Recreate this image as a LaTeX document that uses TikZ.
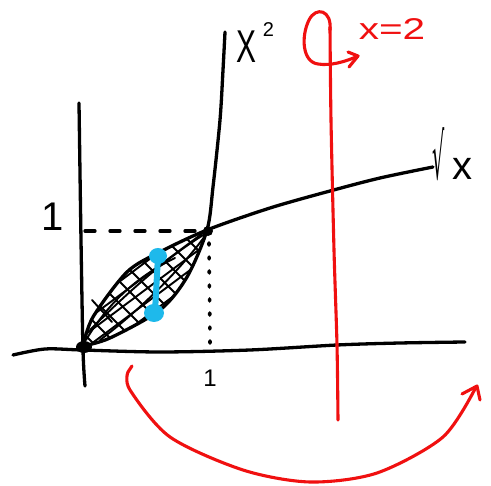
\documentclass[tikz,border=0pt]{standalone}
\usepackage{fontspec}
\setmainfont{Liberation Sans}
\newfontfamily\symfont{DejaVu Sans}
\usepackage{graphicx}
\definecolor{pen}{RGB}{240,16,16}
\definecolor{hl}{RGB}{30,185,235}
\begin{document}
\begin{tikzpicture}[x=1pt,y=-1pt, line cap=round, line join=round,
  inkline/.style={draw=black, line width=3.3pt},
  redline/.style={draw=pen, line width=3.1pt},
  hatch/.style={draw=black, line width=1.9pt},
  lbl/.style={inner sep=0pt, outer sep=0pt}]
\useasboundingbox (0,0) rectangle (491,486);
\fill[white] (0,0) rectangle (491,486);

% hatched region between the curves
\begin{scope}
\clip plot[smooth] coordinates {(83,346) (93,317) (127,272) (160,252) (207,230)}
  -- plot[smooth] coordinates {(207,230) (187,277) (160,310) (110,338) (83,346)} -- cycle;
\foreach \k in {-9,...,9}
  \draw[hatch] ({145+\k*6.6-130},{290+\k*8.8+97}) -- ({145+\k*6.6+130},{290+\k*8.8-97});
\foreach \k in {-7,...,7}
  \draw[hatch] ({145+\k*11-110},{290-\k*11-115}) -- ({145+\k*11+110},{290-\k*11+105});
\end{scope}
\draw[hatch] (92,300) -- (112,322);
\draw[hatch] (90,330) .. controls (130,290) and (170,255) .. (205,234);
\draw[hatch] (100,340) .. controls (140,310) and (180,270) .. (205,236);
\draw[hatch] (86,340) .. controls (110,300) and (140,275) .. (175,258);

% axes
\draw[inkline] plot[smooth] coordinates {(13,355) (45,349) (82,350) (160,352) (250,350) (337,345) (400,343) (465,342)};
\draw[inkline] plot[smooth] coordinates {(79,103) (81,240) (83,350) (85,386)};

% curves
\draw[inkline] plot[smooth] coordinates {(83,346) (110,338) (160,310) (187,277) (207,230) (213,187) (220,120) (223,70) (225,32)};
\draw[inkline] plot[smooth] coordinates {(83,346) (93,317) (127,272) (160,252) (207,230) (270,208) (330,191) (380,178) (433,167)};

% guides
\draw[inkline, dash pattern=on 10pt off 15pt] (85,231) -- (205,231);
\draw[inkline, line width=3.6pt, dash pattern=on 2pt off 12pt] (209,243) -- (210,343);

% blobs
\fill (84,347) ellipse (8 and 6);
\fill (208,231) circle (5);

% blue slice
\draw[hl, line width=6pt] (158,256) -- (155,312);
\fill[hl] (158,256) ellipse (9 and 8);
\fill[hl] (154,313) ellipse (10 and 9);

% red axis of rotation
\draw[redline] plot[smooth] coordinates {(330,27) (331,120) (334,250) (337,345) (338,420)};
\draw[redline] (330,30) .. controls (332,10) and (316,6) .. (309,20) .. controls (301,36) and (302,62) .. (318,64) .. controls (330,66) and (345,62) .. (358,56);
\draw[redline] (348,52) -- (358,56) -- (349,67);

% red bottom arrow
\draw[redline] (132,366) -- (128,372);
\draw[redline] plot[smooth] coordinates {(128,372) (130,390) (170,437) (243,470) (310,482) (377,473) (443,437) (476,387)};
\draw[redline] (462,394) -- (477,386) -- (480,400);

% labels
\node[lbl, font=\fontsize{40}{40}\selectfont] (oney) at (53,217) {1};
\node[lbl, font=\fontsize{24}{24}\selectfont] (onex) at (210,378) {1};
\node[lbl, anchor=base west] (sqlbl) at (236,63) {{\fontsize{46}{46}\selectfont\scalebox{0.65}[1]{X}}\hspace{7pt}\raisebox{26pt}{\fontsize{20}{20}\selectfont 2}};
\node[lbl, anchor=base west] (rtlbl) at (432,180) {{\fontsize{64}{64}\symfont\scalebox{0.3}[1]{√}}\hspace{8pt}{\fontsize{40}{40}\selectfont x}};
\node[lbl, text=pen] (xlbl) at (392,29) {\fontsize{30}{30}\selectfont\scalebox{1.35}[1]{x=2}};
\end{tikzpicture}
\end{document}
